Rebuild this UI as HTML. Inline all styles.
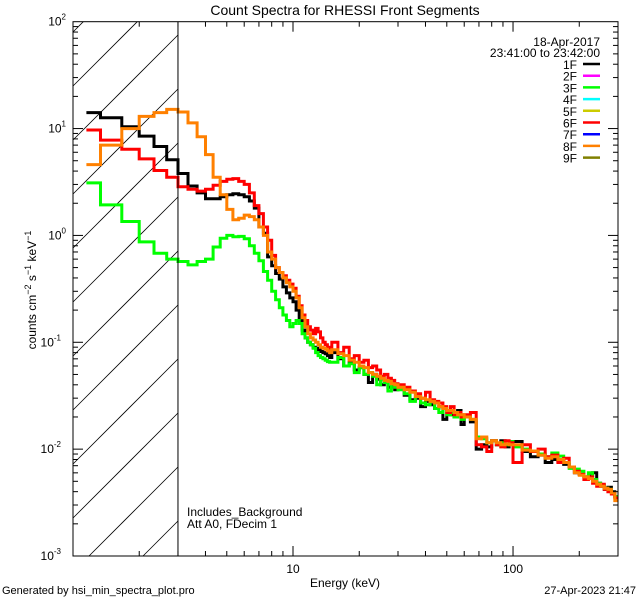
<!DOCTYPE html>
<html><head><meta charset="utf-8"><style>
html,body{margin:0;padding:0;background:#fff;width:640px;height:600px;overflow:hidden;}
svg{display:block;font-family:"Liberation Sans",sans-serif;}
</style></head><body>
<svg id="chart" width="640" height="600" viewBox="0 0 640 600" xmlns="http://www.w3.org/2000/svg">
<rect width="640" height="600" fill="#fff"/>
<defs><clipPath id="pc"><rect x="73" y="21.7" width="545" height="534.3"/></clipPath></defs>
<text x="345" y="15" font-size="14" text-anchor="middle">Count Spectra for RHESSI Front Segments</text>
<g id="hatch"></g>
<g id="series" clip-path="url(#pc)"></g>
<g id="axes"></g>
<text transform="translate(36,290) rotate(-90)" font-size="12" text-anchor="middle">counts cm<tspan font-size="9" dy="-5">−2</tspan><tspan dy="5"> s</tspan><tspan font-size="9" dy="-5">−1</tspan><tspan dy="5"> keV</tspan><tspan font-size="9" dy="-5">−1</tspan></text>
<text x="345" y="587" font-size="12" text-anchor="middle">Energy (keV)</text>
<text x="187" y="516" font-size="12">Includes_Background</text>
<text x="187" y="528" font-size="12">Att A0, FDecim 1</text>
<text x="600" y="46" font-size="12" text-anchor="end">18-Apr-2017</text>
<text x="600" y="57" font-size="12" text-anchor="end">23:41:00 to 23:42:00</text>
<g id="legend"></g>
<text x="2" y="594" font-size="11">Generated by hsi_min_spectra_plot.pro</text>
<text x="636" y="594" font-size="11" text-anchor="end">27-Apr-2023 21:47</text>
</svg>
<script>
// ---- data ----
const lowBinStart = 1.15;
const fineStep = 1/3;           // keV, 1/3 keV bins to 15 keV
const coarseBins = [[15,30,1],[30,60,2],[60,100,4],[100,300,10]];
const seg1F = [14.1,12.6,10.4,8.5,6.8,5.1,3.8,2.9,2.5,2.2,2.2,2.3,2.4,2.45,2.4,2.3,2.1,1.8,1.2,1.05,0.63,0.52,0.44,0.39,0.33,0.29,0.26,0.24,0.2,0.16,0.13,0.11,0.1,0.095,0.09,0.088,0.085,0.082,0.08,0.078,0.075,0.072,
0.08,0.07,0.06,0.065,0.055,0.058,0.05,0.042,0.05,0.045,0.04,0.043,0.038,0.04,0.036,
0.037,0.032,0.029,0.03,0.025,0.028,0.026,0.024,0.025,0.019,0.023,0.021,0.02,0.023,0.017,
0.02,0.018,0.01,0.011,0.0105,0.012,0.011,0.012,0.0105,0.0115,
0.0118,0.0095,0.0085,0.0088,0.0075,0.008,0.0078,0.0072,0.0068,0.006,0.0058,0.0055,0.0056,0.006,0.0048,0.0045,0.0042,0.0044,0.004,0.0036];
const seg3F = [3.1,1.93,1.35,0.87,0.68,0.6,0.57,0.53,0.57,0.6,0.78,0.94,1.0,0.97,0.98,0.93,0.8,0.68,0.58,0.46,0.38,0.3,0.25,0.21,0.18,0.16,0.14,0.15,0.16,0.15,0.12,0.11,0.1,0.095,0.088,0.08,0.075,0.072,0.07,0.068,0.066,0.065,
0.065,0.072,0.06,0.063,0.052,0.058,0.05,0.052,0.048,0.04,0.045,0.042,0.035,0.041,0.038,
0.036,0.033,0.028,0.031,0.027,0.026,0.028,0.024,0.022,0.024,0.021,0.022,0.02,0.021,0.019,
0.02,0.019,0.013,0.0125,0.0115,0.012,0.011,0.0115,0.011,0.0118,
0.0105,0.01,0.0095,0.009,0.0085,0.0092,0.0086,0.0075,0.0066,0.0065,0.0062,0.0055,0.006,0.0052,0.0048,0.0046,0.0043,0.0042,0.0038,0.0036];
const seg6F = [9.7,7.8,6.4,5.2,4.05,3.5,2.85,2.7,2.6,2.7,2.95,3.2,3.35,3.4,3.2,3.0,2.5,1.9,1.6,1.2,0.9,0.65,0.5,0.45,0.42,0.38,0.35,0.32,0.27,0.22,0.18,0.16,0.14,0.13,0.12,0.135,0.125,0.11,0.1,0.095,0.09,0.088,
0.1,0.08,0.09,0.07,0.075,0.065,0.068,0.058,0.06,0.055,0.048,0.05,0.046,0.044,0.041,
0.04,0.038,0.035,0.033,0.03,0.034,0.029,0.028,0.027,0.025,0.022,0.025,0.021,0.022,0.02,
0.021,0.022,0.011,0.0105,0.0095,0.012,0.011,0.0105,0.012,0.0115,
0.0075,0.011,0.0095,0.01,0.0085,0.0088,0.0075,0.0082,0.0068,0.0062,0.0058,0.0052,0.0055,0.0048,0.0045,0.0047,0.0042,0.004,0.0038,0.0035];
const seg8F = [4.6,7.0,10,13,14.1,15.1,14.3,11.3,8.4,5.7,3.5,2.4,1.75,1.4,1.45,1.55,1.5,1.4,1.2,1.0,0.7,0.6,0.5,0.45,0.4,0.36,0.33,0.3,0.26,0.21,0.17,0.14,0.12,0.11,0.105,0.1,0.095,0.09,0.088,0.086,0.083,0.08,
0.085,0.078,0.075,0.068,0.065,0.06,0.058,0.052,0.05,0.048,0.046,0.044,0.043,0.041,0.04,
0.038,0.036,0.034,0.031,0.03,0.029,0.028,0.027,0.025,0.024,0.023,0.023,0.022,0.021,0.021,
0.02,0.019,0.0125,0.013,0.0115,0.012,0.0115,0.011,0.0112,0.011,
0.011,0.0098,0.0096,0.0088,0.0082,0.0085,0.008,0.0075,0.0068,0.006,0.0057,0.0055,0.0053,0.005,0.0047,0.0045,0.0043,0.0042,0.0039,0.0033];
const legendLabels = ["1F","2F","3F","4F","5F","6F","7F","8F","9F"];
const legendColors = ["#000000","#ff00ff","#00ff00","#00ffff","#cccc00","#ff0000","#0000ff","#ff8000","#808000"];
const yTickExps = [-3,-2,-1,0,1,2];
const xTickLabels = [10,100];
const attenuatorLimit = 3; // keV

// ---- build bin edges ----
const edges = [lowBinStart];
for (let k = 4; k <= 45; k++) edges.push(k * fineStep);
coarseBins.forEach(([a,b,s]) => { for (let e = a + s; e <= b + 1e-9; e += s) edges.push(e); });

// ---- axes ----
const X0 = 73, X1 = 618, Y0 = 556, Y1 = 21.7;
const xLogMin = 0, xLogMax = Math.log10(300);
const yLogMin = -3, yLogMax = 2;
const xs = e => X0 + (Math.log10(e) - xLogMin) / (xLogMax - xLogMin) * (X1 - X0);
const ys = v => Y0 - (Math.log10(v) - yLogMin) / (yLogMax - yLogMin) * (Y0 - Y1);
const NS = "http://www.w3.org/2000/svg";
function mk(tag, parent) { const el = document.createElementNS(NS, tag); parent.appendChild(el); return el; }

// hatch (segments computed inside region, no overflow)
const hatch = document.getElementById('hatch');
const XA = xs(attenuatorLimit);
for (let i = -12; i < 14; i++) {
  const c = 86 + i * 54; // y at x=X0
  const xa = Math.max(X0, X0 + c - Y0), xb = Math.min(XA, X0 + c - Y1);
  if (xb <= xa) continue;
  const l = mk('line', hatch);
  
  
  l.setAttribute('x1', xa); l.setAttribute('y1', c - (xa - X0));
  l.setAttribute('x2', xb); l.setAttribute('y2', c - (xb - X0));
  l.setAttribute('stroke', '#000'); l.setAttribute('stroke-width', '0.8');
}
const axes = document.getElementById('axes');
const attLine = mk('line', axes);


attLine.setAttribute('x1', XA); attLine.setAttribute('x2', XA);
attLine.setAttribute('y1', Y1); attLine.setAttribute('y2', Y0);
attLine.setAttribute('stroke', '#000'); attLine.setAttribute('stroke-width', '1');

// series
const seriesG = document.getElementById('series');
function drawSeries(vals, color, name) {
  let d = '';
  vals.forEach((v, i) => {
    const xa = xs(edges[i]), xb = Math.min(xs(edges[i+1]), X1), y = ys(v);
    d += (i === 0 ? 'M' : 'L') + xa.toFixed(1) + ' ' + y.toFixed(1) + 'L' + xb.toFixed(1) + ' ' + y.toFixed(1);
  });
  const p = mk('path', seriesG);
  
  
  p.setAttribute('d', d); p.setAttribute('fill', 'none');
  p.setAttribute('stroke', color); p.setAttribute('stroke-width', '3');
}
drawSeries(seg1F, '#000000', 'series-1f');
drawSeries(seg3F, '#00ff00', 'series-3f');
drawSeries(seg6F, '#ff0000', 'series-6f');
drawSeries(seg8F, '#ff8000', 'series-8f');

// frame
const frame = mk('rect', axes);


frame.setAttribute('x', X0); frame.setAttribute('y', Y1);
frame.setAttribute('width', X1 - X0); frame.setAttribute('height', Y0 - Y1);
frame.setAttribute('fill', 'none'); frame.setAttribute('stroke', '#000'); frame.setAttribute('stroke-width', '1');

function tick(x1, y1, x2, y2, name) {
  const t = mk('line', axes);
  
  
  t.setAttribute('x1', x1); t.setAttribute('y1', y1); t.setAttribute('x2', x2); t.setAttribute('y2', y2);
  t.setAttribute('stroke', '#000'); t.setAttribute('stroke-width', '1');
}
for (let dec = 1; dec <= 100; dec *= 10) {
  for (let m = 1; m <= 9; m++) {
    const e = dec * m; if (e > 300 || (dec === 1 && m === 1)) continue;
    const x = xs(e), len = m === 1 ? 10 : 5;
    tick(x, Y0, x, Y0 - len, 'x-tick');
    tick(x, Y1, x, Y1 + len, 'x-tick-top');
  }
}
xTickLabels.forEach(v => {
  const t = mk('text', axes);
  
  
  t.setAttribute('x', xs(v)); t.setAttribute('y', Y0 + 17);
  t.setAttribute('font-size', '12'); t.setAttribute('text-anchor', 'middle');
  t.textContent = v;
});
for (let ex = -3; ex < 2; ex++) {
  for (let m = 1; m <= 9; m++) {
    const v = m * Math.pow(10, ex), y = ys(v), len = m === 1 ? 10 : 5;
    tick(X0, y, X0 + len, y, 'y-tick');
    tick(X1, y, X1 - len, y, 'y-tick-right');
  }
}
yTickExps.forEach(ex => {
  const t = mk('text', axes);
  
  
  t.setAttribute('x', X0 - 2 - (ex < 0 ? 10 : 5)); t.setAttribute('y', ys(Math.pow(10, ex)) + 4);
  t.setAttribute('font-size', '12'); t.setAttribute('text-anchor', 'end');
  t.innerHTML = '10<tspan font-size="8" dy="-6">' + ex + '</tspan>';
});

// legend
const lg = document.getElementById('legend');
legendLabels.forEach((lab, i) => {
  const y = 64 + i * 11.7;
  const t = mk('text', lg);
  
  
  t.setAttribute('x', 577); t.setAttribute('y', y + 5);
  t.setAttribute('font-size', '12'); t.setAttribute('text-anchor', 'end');
  t.textContent = lab;
  const l = mk('line', lg);
  
  
  l.setAttribute('x1', 583); l.setAttribute('x2', 600);
  l.setAttribute('y1', y); l.setAttribute('y2', y);
  l.setAttribute('stroke', legendColors[i]); l.setAttribute('stroke-width', '2.5');
});
</script>
</body></html>
